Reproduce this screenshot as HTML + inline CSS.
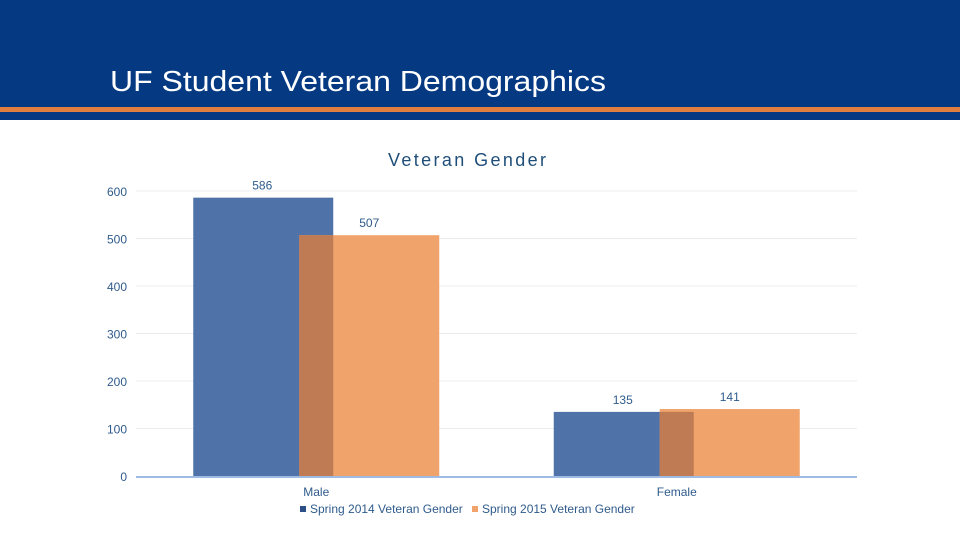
<!DOCTYPE html>
<html><head><meta charset="utf-8"><style>
body{margin:0;width:960px;height:540px;background:#fff;overflow:hidden;font-family:"Liberation Sans",sans-serif}
</style></head><body>
<svg width="960" height="540">
<rect x="0" y="0" width="960" height="120" fill="#053a83"/>
<rect x="0" y="107" width="960" height="5" fill="#e07f3f"/>
<text x="110" y="91" font-size="29" fill="#fff" textLength="496" lengthAdjust="spacingAndGlyphs">UF Student Veteran Demographics</text>
<text x="388" y="166" font-size="18" fill="#1f4e79" textLength="158" lengthAdjust="spacing">Veteran Gender</text>
<g id="chart"></g>
</svg>
<script>
const categories=["Male","Female"];
const spring2014=[586,135];
const spring2015=[507,141];
const ticks=[0,100,200,300,400,500,600];
const seriesNames=["Spring 2014 Veteran Gender","Spring 2015 Veteran Gender"];
const NS="http://www.w3.org/2000/svg";
const g=document.getElementById("chart");
const y0=476,yTop=191,x0=136,x1=857;
const y=v=>y0-(y0-yTop)*v/600;
const catW=(x1-x0)/categories.length;
const cx=i=>x0+catW*(i+0.5);
function el(t,a){const e=document.createElementNS(NS,t);for(const k in a)e.setAttribute(k,a[k]);g.appendChild(e);return e;}
ticks.forEach(t=>{
 if(t>0){const l=el("line",{x1:x0,x2:x1,y1:y(t),y2:y(t),stroke:"#ececec","stroke-width":1});
 
 }
 const tx=el("text",{x:127,y:y(t)+5,"font-size":12,fill:"#2f5b8c","text-anchor":"end"});tx.textContent=t;
 
 
});
const bw=140;
categories.forEach((c,i)=>{
 const bx=cx(i)-123, ox=cx(i)-17;
 const b=el("rect",{x:bx,y:y(spring2014[i]),width:bw,height:y0-y(spring2014[i]),fill:"#4f73a8"});
 
 
 const o=el("rect",{x:ox,y:y(spring2015[i]),width:bw,height:y0-y(spring2015[i]),fill:"#f0a46c"});
 
 
 const m=Math.min(spring2014[i],spring2015[i]);
 const ov=el("rect",{x:ox,y:y(m),width:bx+bw-ox,height:y0-y(m),fill:"#bf7b54"});
 
 
 const l1=el("text",{x:bx+bw/2-1,y:y(spring2014[i])-8,"font-size":12,fill:"#2f5b8c","text-anchor":"middle"});l1.textContent=spring2014[i];
 
 
 const l2=el("text",{x:ox+bw/2,y:y(spring2015[i])-8,"font-size":12,fill:"#2f5b8c","text-anchor":"middle"});l2.textContent=spring2015[i];
 
 
 const cl=el("text",{x:cx(i),y:496,"font-size":12,fill:"#2f5b8c","text-anchor":"middle"});cl.textContent=c;
 
 
});
const ax=el("line",{x1:x0,x2:x1,y1:y0+1,y2:y0+1,stroke:"#9dbbe3","stroke-width":2});


const lg=[[300,"#2b4f86",310],[472,"#f0a46c",482]];
lg.forEach((p,k)=>{
 const r=el("rect",{x:p[0],y:506,width:6,height:6,fill:p[1]});
 
 
 const t=el("text",{x:p[2],y:513,"font-size":12,fill:"#2f5b8c"});t.textContent=seriesNames[k];
 
 
});
</script>
</body></html>
